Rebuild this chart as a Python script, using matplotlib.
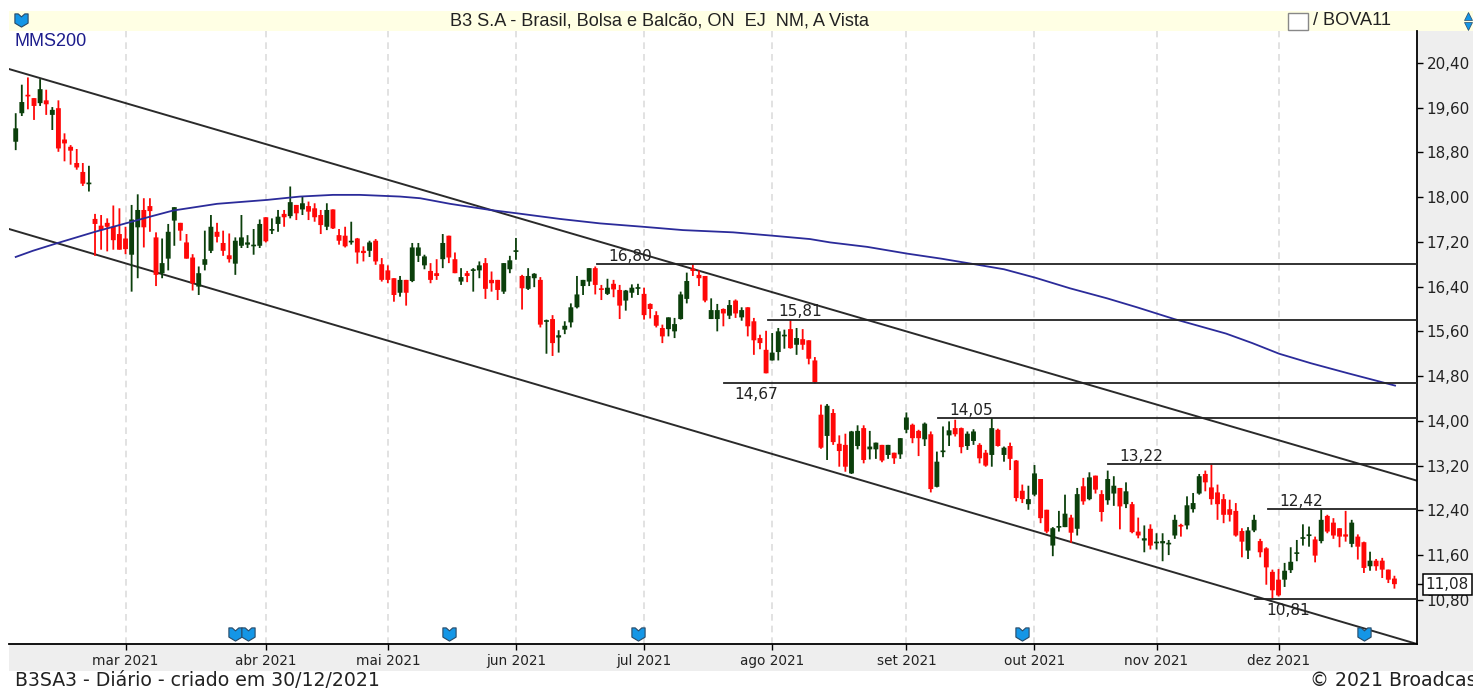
#!/usr/bin/env python3
"""B3SA3 daily candlestick chart with channel lines and MMS200."""

import matplotlib

matplotlib.use('Agg')
import matplotlib.pyplot as plt
from matplotlib.path import Path
from matplotlib.patches import Rectangle

W, H = 1473, 691

opens = [
    18.99,19.50,19.82,19.77,19.68,19.73,19.47,19.59,19.03,18.90,
    18.61,18.45,18.23,17.61,17.49,17.54,17.47,17.34,17.26,16.97,
    17.46,17.77,17.84,17.28,16.64,16.90,17.58,17.54,17.19,16.92,
    16.40,16.79,17.04,17.38,17.18,16.96,16.81,17.13,17.15,17.12,
    17.13,17.64,17.40,17.52,17.70,17.66,17.86,17.78,17.84,17.80,
    17.68,17.47,17.78,17.32,17.31,17.19,17.26,17.04,17.04,17.22,
    16.80,16.69,16.55,16.29,16.52,16.50,16.95,16.78,16.68,16.64,
    16.89,17.31,16.89,16.49,16.64,16.68,16.69,16.82,16.52,16.52,
    16.31,16.71,17.02,16.59,16.36,16.55,16.52,15.77,15.82,15.49,
    15.63,15.76,16.03,16.41,16.49,16.73,16.37,16.27,16.45,16.34,
    16.15,16.29,16.36,16.27,16.09,15.89,15.66,15.64,15.60,15.82,
    16.18,16.72,16.61,16.59,15.82,15.82,16.00,15.88,16.15,15.85,
    16.03,15.78,15.48,15.27,15.08,15.23,15.51,15.64,15.36,15.46,
    15.44,15.08,14.11,13.73,14.14,13.59,13.57,13.06,13.55,13.87,
    13.49,13.49,13.57,13.39,13.43,13.40,13.84,13.93,13.82,13.67,
    13.76,12.82,13.44,13.74,13.87,13.87,13.55,13.64,13.57,13.43,
    13.39,13.84,13.39,13.55,13.29,12.75,12.51,12.68,12.96,12.41,
    11.77,12.09,12.10,12.27,12.07,12.83,12.60,13.02,12.69,12.58,
    12.70,12.80,12.51,12.51,12.02,11.86,12.07,11.81,11.81,11.79,
    11.95,12.13,12.13,12.42,12.70,13.05,12.81,12.72,12.60,12.42,
    12.39,12.03,11.68,12.04,11.85,11.72,11.30,11.16,11.16,11.33,
    11.62,11.89,11.94,11.88,11.85,12.30,12.18,12.08,11.97,11.80,
    11.93,11.83,11.40,11.50,11.50,11.34,11.18,
]
closes = [
    19.23,19.70,19.80,19.63,19.93,19.66,19.56,18.87,18.96,18.83,
    18.53,18.24,18.24,17.52,17.41,17.47,17.23,17.06,17.07,17.60,
    17.77,17.46,17.75,16.61,16.82,17.38,17.82,17.40,16.90,16.46,
    16.64,16.89,17.47,17.29,17.04,16.89,17.22,17.28,17.19,17.15,
    17.52,17.21,17.43,17.65,17.64,17.91,17.71,17.89,17.74,17.64,
    17.50,17.77,17.44,17.22,17.12,17.21,17.01,17.00,17.19,16.85,
    16.52,16.52,16.25,16.52,16.29,17.10,17.10,16.94,16.52,16.59,
    17.18,16.92,16.64,16.57,16.59,16.70,16.78,16.36,16.46,16.34,
    16.82,16.87,17.04,16.37,16.59,16.63,15.72,15.79,15.39,15.53,
    15.70,16.03,16.26,16.52,16.73,16.43,16.34,16.38,16.35,16.06,
    16.33,16.38,16.38,15.89,16.00,15.70,15.51,15.85,15.73,16.26,
    16.50,16.68,16.55,16.15,15.98,15.98,15.92,16.07,15.92,15.98,
    15.69,15.44,15.39,14.85,15.22,15.60,15.53,15.30,15.48,15.36,
    15.11,14.69,13.52,14.27,13.62,13.46,13.18,13.81,13.82,13.30,
    13.54,13.61,13.29,13.57,13.33,13.69,14.06,13.69,13.69,13.95,
    12.78,13.27,13.46,13.83,13.76,13.53,13.77,13.81,13.33,13.20,
    13.87,13.55,13.52,13.32,12.62,12.60,12.60,13.06,12.26,12.02,
    12.08,12.11,12.34,12.00,12.69,12.56,12.99,12.77,12.37,12.96,
    12.84,12.47,12.74,12.01,11.95,11.90,11.77,11.84,11.85,11.81,
    12.23,12.11,12.49,12.53,13.01,12.90,12.60,12.51,12.32,12.32,
    11.95,11.84,12.04,12.23,11.65,11.38,10.97,10.88,11.32,11.48,
    11.64,11.91,11.97,11.59,12.23,12.02,11.95,11.93,11.93,12.18,
    11.75,11.37,11.50,11.40,11.34,11.16,11.08,
]
highs = [
    19.50,20.01,20.14,19.77,20.11,19.92,19.61,19.73,19.14,18.93,
    18.86,18.61,18.56,17.70,17.68,17.62,17.85,17.80,17.47,17.86,
    18.05,17.98,17.98,17.37,17.26,17.52,17.82,17.54,17.34,16.98,
    16.76,17.40,17.68,17.54,17.40,17.35,17.28,17.68,17.32,17.43,
    17.60,17.64,17.62,17.77,17.77,18.19,17.86,18.02,17.92,17.89,
    17.77,17.89,17.78,17.43,17.47,17.56,17.27,17.12,17.22,17.25,
    16.91,16.78,16.55,16.59,16.52,17.18,17.18,16.97,16.82,16.89,
    17.34,17.31,17.01,16.73,16.68,16.73,16.85,16.91,16.67,16.52,
    16.82,16.95,17.27,16.61,16.73,16.64,16.57,15.81,15.89,15.62,
    15.78,16.10,16.59,16.52,16.73,16.76,16.43,16.54,16.52,16.43,
    16.34,16.44,16.45,16.38,16.10,15.96,15.72,15.85,15.84,16.31,
    16.65,16.80,16.69,16.59,16.19,16.09,16.01,16.16,16.17,16.03,
    16.03,15.84,15.54,15.61,15.57,15.66,15.63,15.81,15.66,15.64,
    15.44,15.14,14.29,14.30,14.21,13.74,13.77,13.82,13.92,13.92,
    13.82,13.61,13.57,13.57,13.43,13.69,14.15,13.95,13.84,13.97,
    13.81,13.45,13.90,13.99,14.02,13.88,13.81,13.85,13.60,13.48,
    14.05,13.86,13.54,13.61,13.30,12.86,12.84,13.21,12.96,12.41,
    12.10,12.39,12.68,12.32,12.80,12.98,13.08,13.02,12.76,13.11,
    13.01,12.80,12.90,12.55,12.27,12.13,12.15,11.99,11.99,11.87,
    12.32,12.16,12.65,12.71,13.05,13.11,13.22,12.86,12.69,12.59,
    12.53,12.08,12.10,12.32,11.89,11.74,11.34,11.35,11.46,11.74,
    11.87,12.15,12.11,11.93,12.42,12.32,12.26,12.08,12.39,12.23,
    11.97,11.84,11.66,11.53,11.55,11.34,11.23,
]
lows = [
    18.84,19.45,19.57,19.38,19.63,19.47,19.20,18.81,18.64,18.58,
    18.49,18.20,18.10,16.95,17.06,17.03,17.06,17.06,16.98,16.31,
    16.55,17.10,17.38,16.41,16.55,16.69,17.13,17.22,16.90,16.33,
    16.25,16.69,17.00,17.19,16.95,16.83,16.61,17.09,17.09,16.97,
    17.09,17.19,17.34,17.38,17.47,17.62,17.59,17.68,17.59,17.56,
    17.34,17.41,17.43,17.15,17.10,17.15,16.81,16.85,16.93,16.79,
    16.49,16.46,16.13,16.22,16.06,16.48,16.84,16.71,16.46,16.52,
    16.73,16.82,16.64,16.43,16.48,16.31,16.55,16.18,16.31,16.16,
    16.27,16.64,16.88,15.99,16.34,16.39,15.67,15.20,15.16,15.22,
    15.55,15.67,16.01,16.25,16.41,16.26,16.16,16.25,16.21,15.82,
    15.97,16.20,16.25,15.81,15.83,15.67,15.39,15.51,15.48,15.81,
    16.10,16.59,16.41,16.12,15.82,15.60,15.69,15.82,15.84,15.79,
    15.51,15.18,15.28,14.85,15.08,15.08,15.29,15.29,15.18,15.27,
    15.01,14.67,13.50,13.30,13.57,13.18,13.09,13.05,13.49,13.24,
    13.31,13.32,13.26,13.32,13.23,13.32,13.78,13.60,13.37,13.55,
    12.72,12.81,13.35,13.55,13.72,13.42,13.48,13.57,13.24,13.18,
    13.18,13.54,13.27,13.12,12.56,12.53,12.41,12.65,12.17,11.99,
    11.58,12.02,12.10,11.82,11.95,12.50,12.58,12.70,12.20,12.50,
    12.48,12.06,12.44,11.99,11.90,11.65,11.70,11.70,11.49,11.60,
    11.89,11.93,12.06,12.36,12.68,12.74,12.50,12.23,12.17,12.20,
    11.93,11.56,11.53,12.01,11.56,11.07,10.81,10.86,11.03,11.28,
    11.49,11.77,11.75,11.47,11.81,11.99,11.89,11.74,11.84,11.74,
    11.52,11.28,11.32,11.32,11.19,11.10,11.00,
]

# MMS200 read at a few sessions along the curve
mms_idx = [0, 2.8, 6.9, 13, 19, 22, 25.8, 33, 41.2, 46.6, 52, 56.4, 63, 66.3, 71.2, 77.8, 82.2,
           89.2, 95.8, 102.8, 109.4, 117.6, 124.1, 130.2, 133.5, 139.6, 146.1, 151.7, 157.7, 162,
           167.1, 172.8, 178.9, 183.8, 189.9, 198.4, 202.7, 207.1, 212.3, 218.4, 226.1]
mms_val = [16.93, 17.04, 17.18, 17.38, 17.56, 17.65, 17.76, 17.88, 17.95, 18.01, 18.04, 18.04,
           18.01, 17.98, 17.88, 17.77, 17.71, 17.61, 17.53, 17.47, 17.41, 17.37, 17.31, 17.25,
           17.19, 17.11, 16.99, 16.90, 16.79, 16.71, 16.56, 16.37, 16.19, 16.03, 15.82, 15.56,
           15.39, 15.20, 15.03, 14.85, 14.63]

# channel lines (session, price)
channel_x = [-1.1, 229.7]
channel_upper = [20.29, 12.93]
channel_lower = [17.43, 10.01]

# support/resistance levels: price, first session, label side
levels = [16.80, 15.81, 14.67, 14.05, 13.22, 12.42, 10.81]
level_start = [95.3, 123.3, 116.1, 151.2, 179.1, 205.3, 203.2]
level_above = [True, True, False, True, True, True, False]

month_idx = [18, 41, 61, 82, 103, 124, 146, 167, 187, 207]
month_labels = ['mar 2021', 'abr 2021', 'mai 2021', 'jun 2021', 'jul 2021', 'ago 2021',
                'set 2021', 'out 2021', 'nov 2021', 'dez 2021']
price_ticks = [20.40, 19.60, 18.80, 18.00, 17.20, 16.40, 15.60, 14.80, 14.00, 13.20, 12.40,
               11.60, 10.80]
last_price = 11.08
event_idx = [36, 38, 71, 102, 165, 221]

SHIELD = Path([(-1, 1), (-0.5, 1), (0, 0.55), (0.5, 1), (1, 1), (1, -0.4), (0, -1), (-1, -0.4),
               (-1, 1)], closed=True)
RED = '#ff0808'
GREEN = '#0b3f0b'
BLUE = '#1496e6'


def comma(v):
    return f'{v:.2f}'.replace('.', ',')


fig = plt.figure(figsize=(W / 100, H / 100), dpi=100, facecolor='white')

# window furniture, in pixel coordinates
bg = fig.add_axes([0, 0, 1, 1], zorder=0)
bg.set_xlim(0, W)
bg.set_ylim(H, 0)
bg.axis('off')
bg.add_patch(Rectangle((9, 11), W - 9, 20, fc='#ffffe4', ec='none'))
bg.add_patch(Rectangle((1417, 31), W - 1417, 613, fc='#eeeeee', ec='none'))
bg.add_patch(Rectangle((9, 644), W - 9, 27, fc='#eeeeee', ec='none'))
bg.add_patch(Rectangle((1288, 13), 20, 17, fc='white', ec='#888888', lw=1))
bg.plot([21], [20], marker=SHIELD, ms=9.5, mfc=BLUE, mec='#2a4a66', mew=0.8)
bg.plot([1468], [16], marker='^', ms=6, mfc=BLUE, mec='#2a4a66', mew=0.5, clip_on=False)
bg.plot([1468], [26], marker='v', ms=6, mfc=BLUE, mec='#2a4a66', mew=0.5, clip_on=False)
bg.text(659, 20.5, 'B3 S.A - Brasil, Bolsa e Balcão, ON  EJ  NM, A Vista', ha='center',
        va='center', fontsize=13.1, family='Liberation Sans', color='#222222')
bg.text(1313, 20.5, '/ BOVA11', ha='left', va='center', fontsize=13.1, family='Liberation Sans',
        color='#222222')
bg.text(15, 681, 'B3SA3 - Diário - criado em 30/12/2021', ha='left', va='center', fontsize=13.6,
        color='#222222')
bg.text(1310, 681, '© 2021 Broadcast', ha='left', va='center', fontsize=13.6, color='#222222',
        clip_on=True)

ax = fig.add_axes([9 / W, 1 - 644 / H, (1417 - 9) / W, (644 - 31) / H], zorder=1)
ax.patch.set_alpha(0)
ax.set_xlim(-1.1, 229.7)
ax.set_ylim(10.01, 20.97)

for m in month_idx:
    ax.axvline(m, color='#dddddd', lw=1.2, ls=(0, (4, 3)), zorder=1)

ax.plot(channel_x, channel_upper, color='#2a2a2a', lw=1.4, zorder=2)
ax.plot(channel_x, channel_lower, color='#2a2a2a', lw=1.4, zorder=2)
ax.plot(mms_idx, mms_val, color='#2b2b9a', lw=1.3, zorder=4)

for i, (o, h, l, c) in enumerate(zip(opens, highs, lows, closes, strict=True)):
    color = GREEN if c >= o else RED
    ax.vlines(i, l, h, color=color, lw=1.3, zorder=3, snap=False)
    ax.bar(i, max(abs(c - o), 0.03), bottom=min(o, c), width=0.8, color=color, lw=0, zorder=3,
           snap=False)

for price, start, above in zip(levels, level_start, level_above):
    ax.plot([start, 229.7], [price, price], color='#222222', lw=1.3, zorder=5)
    ax.annotate(comma(price), (start, price), xytext=(23.5, 5.5 if above else -8),
                textcoords='offset points', ha='center', va='center', fontsize=11.1,
                color='#222222', zorder=6)

ax.plot(event_idx, [10.19] * len(event_idx), ls='none', marker=SHIELD, ms=9.5, mfc=BLUE,
        mec='#2a4a66', mew=0.8, zorder=6)
ax.text(0.004, 0.983, 'MMS200', transform=ax.transAxes, ha='left', va='center', fontsize=13,
        family='Liberation Sans', color='#1c1c8c')

for side in ('top', 'left'):
    ax.spines[side].set_visible(False)
ax.spines['right'].set_linewidth(1.3)
ax.spines['bottom'].set_linewidth(1.3)
ax.yaxis.tick_right()
ax.set_yticks(price_ticks + [last_price])
ax.set_yticklabels([comma(v) for v in price_ticks] + [''], fontsize=10.9, color='#222222')
ax.set_xticks(month_idx)
ax.set_xticklabels(month_labels, fontsize=9.8, color='#222222')
ax.tick_params(axis='y', length=4, width=1, pad=3)
ax.tick_params(axis='x', length=4, width=1, pad=3)
ax.text(1.0062, last_price, comma(last_price), transform=ax.get_yaxis_transform(), ha='left',
        va='center', fontsize=10.9, color='#222222', zorder=7, clip_on=False,
        bbox=dict(boxstyle='square,pad=0.2', fc='white', ec='black', lw=1.1))

fig.savefig('out.png', dpi=100)
plt.close('all')
